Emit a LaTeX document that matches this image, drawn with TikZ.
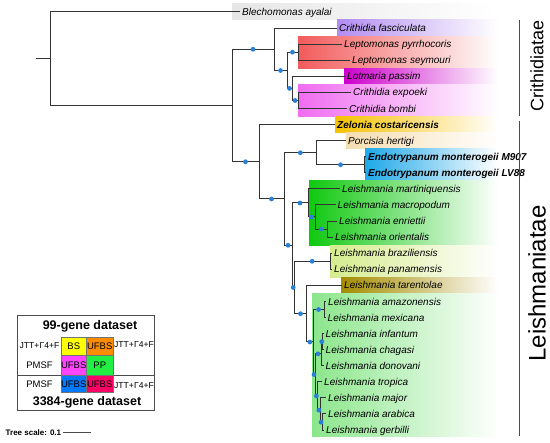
\documentclass[tikz,border=0pt]{standalone}
\usepackage{fontspec}
\setmainfont{Liberation Sans}
\usepackage{tikz}
\usetikzlibrary{positioning, calc}

\definecolor{dotblue}{HTML}{2C7FD6}
\definecolor{cgrey}{HTML}{E6E6E6}
\definecolor{cfasc}{HTML}{B28CF0}
\definecolor{clepto}{HTML}{F25B5B}
\definecolor{clotm}{HTML}{CC00CC}
\definecolor{ccrith}{HTML}{F06CF0}
\definecolor{czel}{HTML}{F5C200}
\definecolor{cporc}{HTML}{F5DDB0}
\definecolor{cendo}{HTML}{1EA8E8}
\definecolor{cleish}{HTML}{10C810}
\definecolor{cbraz}{HTML}{D5EC8E}
\definecolor{ctar}{HTML}{A38C00}
\definecolor{cmajor}{HTML}{8BE68B}
\definecolor{lbs}{HTML}{FFFF00}
\definecolor{lorange}{HTML}{FF8C00}
\definecolor{lmag}{HTML}{FF44FF}
\definecolor{lpp}{HTML}{22EE44}
\definecolor{lblue}{HTML}{0078FF}
\definecolor{lred}{HTML}{FF0066}

\tikzset{
  branch/.style={draw=black!80, line width=1pt},
  support/.style={fill=dotblue},
  leaf/.style={anchor=west, inner xsep=2pt, inner ysep=0pt, text height=7.2pt, text depth=0pt,
    font=\fontsize{10}{12}\selectfont\itshape},
  leafbold/.style={leaf, font=\fontsize{10}{12}\selectfont\bfseries\itshape},
  clade/.style={rotate=90, inner sep=0pt},
  cell/.style={draw=black!55, line width=0.5pt, inner sep=0pt, font=\fontsize{9.5}{11}\selectfont},
  legtext/.style={inner sep=0pt, font=\fontsize{9.5}{11}\selectfont},
  modeltext/.style={inner sep=0pt, font=\fontsize{8.6}{10}\selectfont},
}

\begin{document}
\begin{tikzpicture}[x=1pt, y=-1pt]
\useasboundingbox (0,0) rectangle (550,443);

% clade colour bands
\shade[left color=cgrey, right color=white] (232,4) rectangle (498,20);
\shade[left color=cfasc, right color=white] (337,20) rectangle (498,36.1);
\shade[left color=clepto, right color=white] (298,36.1) rectangle (498,68.3);
\shade[left color=clotm, right color=white] (344,68.3) rectangle (498,84.4);
\shade[left color=ccrith, right color=white] (298,84.4) rectangle (498,116.5);
\shade[left color=czel, right color=white] (335,116.5) rectangle (498,132.6);
\shade[left color=cporc, right color=white] (346,132.6) rectangle (498,148.7);
\shade[left color=cendo, right color=white] (365,148.7) rectangle (498,180.8);
\shade[left color=cleish, right color=white] (309,180.8) rectangle (498,245.2);
\shade[left color=cbraz, right color=white] (330,245.2) rectangle (498,277.3);
\shade[left color=ctar, right color=white] (341,277.3) rectangle (498,293.4);
\shade[left color=cmajor, right color=white] (312,293.4) rectangle (498,437);

% internal nodes
\coordinate (stub) at (36,59);
\coordinate (R) at (50,59);
\coordinate (K) at (232,105.5);
\coordinate (L) at (274,49.3);
\coordinate (A) at (287,70.5);
\coordinate (P) at (298,52.2);
\coordinate (B) at (292,88.4);
\coordinate (C) at (298,100.5);
\coordinate (M) at (259,161.8);
\coordinate (D) at (284,199);
\coordinate (N) at (316.7,152.7);
\coordinate (Q) at (364.3,164.8);
\coordinate (E) at (292,245.3);
\coordinate (F) at (308,203);
\coordinate (G) at (315,217);
\coordinate (H) at (327.7,229.1);
\coordinate (I) at (294.3,287.5);
\coordinate (J) at (330,261.3);
\coordinate (S) at (306.7,313.7);
\coordinate (T) at (313,342);
\coordinate (U) at (324,309.5);
\coordinate (V) at (315,374.5);
\coordinate (W) at (321,353.9);
\coordinate (Y) at (322.5,341.7);
\coordinate (X) at (317.7,396);
\coordinate (X2) at (320,410.2);
\coordinate (X3) at (322,422.2);

% leaves
\node[leaf] (blech) at (240,12) {Blechomonas ayalai};
\node[leaf] (fasc) at (337,28.08) {Crithidia fasciculata};
\node[leaf] (pyrr) at (342,44.16) {Leptomonas pyrrhocoris};
\node[leaf] (seym) at (350,60.24) {Leptomonas seymouri};
\node[leaf] (lotm) at (345,76.32) {Lotmaria passim};
\node[leaf] (expo) at (351,92.4) {Crithidia expoeki};
\node[leaf] (bomb) at (347,108.48) {Crithidia bombi};
\node[leafbold] (zelo) at (335,124.56) {Zelonia costaricensis};
\node[leaf] (porc) at (346,140.64) {Porcisia hertigi};
\node[leafbold] (endoa) at (366,156.72) {Endotrypanum monterogeii M907};
\node[leafbold] (endob) at (366,172.8) {Endotrypanum monterogeii LV88};
\node[leaf] (mart) at (340,188.88) {Leishmania martiniquensis};
\node[leaf] (macr) at (335.5,204.96) {Leishmania macropodum};
\node[leaf] (enri) at (337,221.04) {Leishmania enriettii};
\node[leaf] (orie) at (333,237.12) {Leishmania orientalis};
\node[leaf] (braz) at (332,253.2) {Leishmania braziliensis};
\node[leaf] (pana) at (332,269.28) {Leishmania panamensis};
\node[leaf] (tare) at (342,285.36) {Leishmania tarentolae};
\node[leaf] (amaz) at (326,301.44) {Leishmania amazonensis};
\node[leaf] (mexi) at (325.5,317.52) {Leishmania mexicana};
\node[leaf] (infa) at (323.5,333.6) {Leishmania infantum};
\node[leaf] (chag) at (323.5,349.68) {Leishmania chagasi};
\node[leaf] (dono) at (323.5,365.76) {Leishmania donovani};
\node[leaf] (trop) at (322,381.84) {Leishmania tropica};
\node[leaf] (majo) at (326,397.92) {Leishmania major};
\node[leaf] (arab) at (326,414) {Leishmania arabica};
\node[leaf] (gerb) at (324,430.08) {Leishmania gerbilli};

% branches
\draw[branch] (stub) -- (R);
\foreach \p/\c in {R/K, K/L, K/M, L/A, A/P, A/B, B/C, M/D, D/N, N/Q, D/E, E/F, F/G, G/H,
    E/I, I/J, I/S, S/T, T/U, T/V, V/W, W/Y, V/X, X/X2, X2/X3}
  \draw[branch] (\p) |- (\c);
\foreach \p/\c in {R/blech, L/fasc, P/pyrr, P/seym, B/lotm, C/expo, C/bomb, M/zelo, N/porc,
    Q/endoa, Q/endob, F/mart, G/macr, H/enri, H/orie, J/braz, J/pana, S/tare, U/amaz, U/mexi,
    Y/infa, Y/chag, W/dono, X/trop, X2/majo, X3/arab, X3/gerb}
  \draw[branch] (\p) |- (\c.west);

% support values
\foreach \p/\c in {K/L, K/M, L/A, A/P, A/B, B/C, M/D, D/N, N/Q, D/E, E/F, F/G, G/H,
    E/I, I/J, I/S, S/T, T/U, T/V, V/W, W/Y, V/X, X/X2, X2/X3}
  \fill[support] ($(\p|-\c)!0.5!(\c)$) circle (2.4pt);

% clade brackets
\coordinate (crtop) at (519,20);
\coordinate (crbot) at (519,116);
\coordinate (letop) at (519,121);
\coordinate (lebot) at (519,436);
\draw[black!70, line width=0.8pt] (crtop) -- (crbot);
\draw[black!70, line width=0.8pt] (letop) -- (lebot);
\node[clade, font=\fontsize{18}{20}\selectfont] (crith) at (537,65.5) {Crithidiatae};
\node[clade, font=\fontsize{24}{26}\selectfont] (leish) at (537,283.5) {Leishmaniatae};

% legend
\draw[black!70, line width=0.7pt] (17.3,315) rectangle (154,410.7);
\coordinate (divl) at (17.3,375.5);
\coordinate (divr) at (154,375.5);
\draw[black!70, line width=0.7pt] (divl) -- (divr);
\node[cell, fill=lbs, minimum width=24.5pt, minimum height=18.5pt] (bs) at (73.75,346.25) {BS};
\node[cell, fill=lorange, minimum width=27.5pt, minimum height=18.5pt] (ufa) at (99.75,346.25) {UFBS};
\node[cell, fill=lmag, minimum width=24.5pt, minimum height=20pt] (ufb) at (73.75,365.5) {UFBS};
\node[cell, fill=lpp, minimum width=27.5pt, minimum height=20pt] (pp) at (99.75,365.5) {PP};
\node[cell, fill=lblue, minimum width=24.5pt, minimum height=17pt] (ufc) at (73.75,384) {UFBS};
\node[cell, fill=lred, minimum width=27.5pt, minimum height=17pt] (ufd) at (99.75,384) {UFBS};
\node[legtext, font=\fontsize{12.5}{14}\selectfont\bfseries] (top) at (90,326) {99-gene dataset};
\node[legtext, font=\fontsize{12.5}{14}\selectfont\bfseries] (bottom) at (87,402) {3384-gene dataset};
\node[modeltext] (jtta) at (39.5,346) {JTT+Γ4+F};
\node[modeltext] (jttb) at (134,345) {JTT+Γ4+F};
\node[legtext] (pmsfa) at (39.5,365.5) {PMSF};
\node[legtext] (pmsfb) at (39.5,384.5) {PMSF};
\node[modeltext] (jttc) at (134,385.5) {JTT+Γ4+F};

% tree scale
\node[anchor=west, inner sep=1.5pt, font=\fontsize{8}{10}\selectfont\bfseries] (scale) at (4,432.7) {Tree scale: 0.1};
\coordinate (scaleend) at (90.7,432.7);
\draw[black!70, line width=0.6pt] (scale.east) -- (scaleend);

\end{tikzpicture}
\end{document}
